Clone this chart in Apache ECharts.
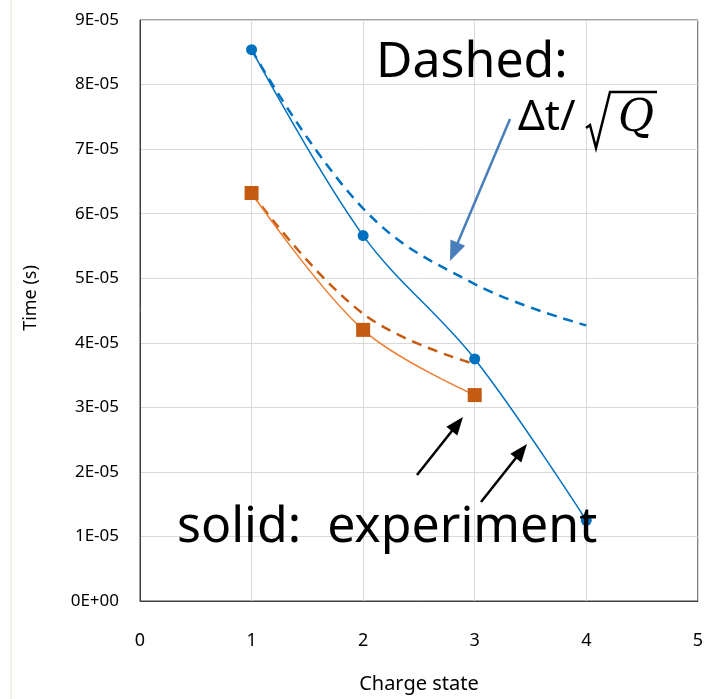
<!DOCTYPE html>
<html>
<head>
<meta charset="utf-8">
<script src="https://cdn.jsdelivr.net/npm/echarts@6/dist/echarts.min.js"></script>
<style>
html,body{margin:0;padding:0;background:#fff;overflow:hidden;}
#chart{width:706px;height:699px;}
</style>
</head>
<body>
<div id="chart"></div>
<script>
// ---- data ----
var xTicks = [0, 1, 2, 3, 4, 5];
var yTickLabels = ['0E+00','1E-05','2E-05','3E-05','4E-05','5E-05','6E-05','7E-05','8E-05','9E-05'];
var chargeBlue = [1, 2, 3, 4];
var blueExperiment = [8.54e-5, 5.66e-5, 3.75e-5, 1.25e-5];
var blueScaled = [8.54e-5, 6.08e-5, 4.91e-5, 4.27e-5];
var chargeOrange = [1, 2, 3];
var orangeExperiment = [6.32e-5, 4.20e-5, 3.19e-5];
var orangeScaled = [6.32e-5, 4.45e-5, 3.67e-5];

function pairs(xs, ys) { return xs.map(function (x, i) { return [x, ys[i]]; }); }

function sciLabel(v) {
  var idx = Math.round(v / 1e-5);
  return yTickLabels[idx] !== undefined ? yTickLabels[idx] : '';
}

var FONT = '"Noto Sans", "Open Sans", sans-serif';

function arrow(x1, y1, x2, y2, color, w, headLen, headW) {
  var dx = x2 - x1, dy = y2 - y1, L = Math.sqrt(dx * dx + dy * dy);
  var ux = dx / L, uy = dy / L, px = -uy, py = ux;
  var bx = x2 - ux * headLen, by = y2 - uy * headLen;
  return [
    { type: 'line', shape: { x1: x1, y1: y1, x2: bx + ux * 2, y2: by + uy * 2 },
      style: { stroke: color, lineWidth: w }, z: 100 },
    { type: 'polygon', shape: { points: [[x2, y2], [bx + px * headW, by + py * headW], [bx - px * headW, by - py * headW]] },
      style: { fill: color }, z: 100 }
  ];
}

var graphics = [
  { type: 'rect', shape: { x: 10, y: 0, width: 2, height: 699 }, style: { fill: '#f0f0e8' }, z: 1 },
  { type: 'text', x: 31, y: 298, rotation: Math.PI / 2,
    style: { text: 'Time (s)', font: '18px ' + FONT, fill: '#000', align: 'center', verticalAlign: 'middle' }, z: 100 },
  { type: 'text', x: 376, y: 63,
    style: { text: 'Dashed:', font: '50px ' + FONT, fill: '#000', align: 'left', verticalAlign: 'middle' }, z: 100 },
  { type: 'text', x: 518, y: 118,
    style: { text: 'Δt/', font: '42px ' + FONT, fill: '#000', align: 'left', verticalAlign: 'middle' }, z: 100 },
  { type: 'polyline', shape: { points: [[586, 128], [590, 125], [596, 148], [610, 92], [657, 92]] },
    style: { stroke: '#000', lineWidth: 2.5, fill: null, lineJoin: 'miter' }, z: 100 },
  { type: 'text', x: 618, y: 120,
    style: { text: 'Q', font: 'italic 44px "DejaVu Serif", "Liberation Serif", serif', fill: '#000', align: 'left', verticalAlign: 'middle' }, z: 100 },
  { type: 'text', x: 177, y: 528,
    style: { text: 'solid:  experiment', font: '50px ' + FONT, fill: '#000', align: 'left', verticalAlign: 'middle' }, z: 100 }
].concat(arrow(510, 119, 450, 261, '#4a7ebb', 2.5, 20, 8))
 .concat(arrow(417, 475, 463, 417, '#000', 2.5, 18, 7))
 .concat(arrow(481, 502, 527, 444, '#000', 2.5, 18, 7));

var chart = echarts.init(document.getElementById('chart'), null, { renderer: 'canvas', width: 706, height: 699 });
chart.setOption({
  animation: false,
  backgroundColor: '#fff',
  grid: { left: 140, top: 20, width: 559, height: 587, show: true, borderColor: '#404040', borderWidth: 1 },
  xAxis: {
    type: 'value', min: xTicks[0], max: xTicks[xTicks.length - 1], interval: 1,
    name: 'Charge state', nameLocation: 'middle', nameGap: 73,
    nameTextStyle: { fontFamily: FONT, fontSize: 20, color: '#000' },
    axisLine: { show: true, lineStyle: { color: '#404040', width: 1 } },
    axisTick: { show: false },
    axisLabel: { fontFamily: FONT, fontSize: 18, color: '#000', margin: 31 },
    splitLine: { show: true, lineStyle: { color: '#d9d9d9', width: 1 } }
  },
  yAxis: {
    type: 'value', min: 0, max: 9e-5, interval: 1e-5,
    axisLine: { show: true, lineStyle: { color: '#404040', width: 1 } },
    axisTick: { show: false },
    axisLabel: { fontFamily: FONT, fontSize: 17, color: '#000', margin: 21, formatter: sciLabel },
    splitLine: { show: true, lineStyle: { color: '#d9d9d9', width: 1 } }
  },
  series: [
    { type: 'line', name: 'blue scaled', data: pairs(chargeBlue, blueScaled), smooth: 0.4,
      showSymbol: false, symbol: 'none', lineStyle: { color: '#0070C0', width: 2.5, type: [10, 7] }, z: 2 },
    { type: 'line', name: 'orange scaled', data: pairs(chargeOrange, orangeScaled), smooth: 0.4,
      showSymbol: false, symbol: 'none', lineStyle: { color: '#C55A11', width: 2.5, type: [10, 7] }, z: 2 },
    { type: 'line', name: 'blue exp', data: pairs(chargeBlue, blueExperiment), smooth: 0.35,
      symbol: 'circle', symbolSize: 11, itemStyle: { color: '#0070C0' },
      lineStyle: { color: '#0070C0', width: 1.5 }, z: 3 },
    { type: 'line', name: 'orange exp', data: pairs(chargeOrange, orangeExperiment), smooth: 0.35,
      symbol: 'rect', symbolSize: 14, itemStyle: { color: '#C55A11' },
      lineStyle: { color: '#ED7D31', width: 1.5 }, z: 3 }
  ],
  graphic: graphics
});
</script>
</body>
</html>
